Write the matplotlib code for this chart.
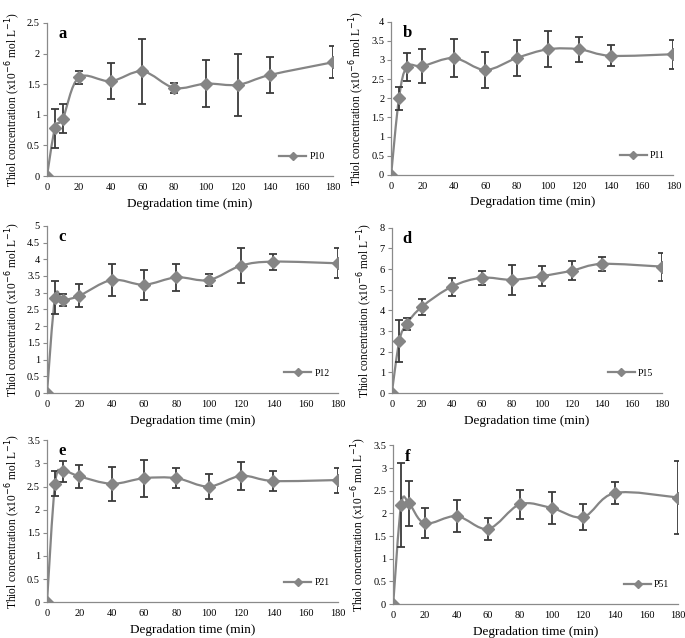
import matplotlib
matplotlib.use('Agg')
import matplotlib.pyplot as plt
from matplotlib.path import Path
from matplotlib.patches import PathPatch
from matplotlib.lines import Line2D
import numpy as np

plt.rcParams['font.family'] = ['Liberation Serif', 'DejaVu Serif']

# ── Data ──────────────────────────────────────────────────────
time = [0, 5, 10, 20, 40, 60, 80, 100, 120, 140, 180]

p10     = [0, 0.78, 0.94, 1.61, 1.55, 1.71, 1.44, 1.51, 1.49, 1.65, 1.86]
p10_err = [0, 0.32, 0.23, 0.10, 0.29, 0.53, 0.08, 0.38, 0.51, 0.30, 0.26]

p11     = [0, 2.00, 2.82, 2.84, 3.05, 2.74, 3.05, 3.28, 3.28, 3.11, 3.15]
p11_err = [0, 0.30, 0.36, 0.45, 0.49, 0.48, 0.46, 0.47, 0.33, 0.28, 0.38]

p12     = [0, 2.85, 2.78, 2.91, 3.38, 3.24, 3.46, 3.38, 3.81, 3.93, 3.88]
p12_err = [0, 0.50, 0.18, 0.35, 0.47, 0.45, 0.41, 0.17, 0.53, 0.24, 0.45]

p15     = [0, 2.52, 3.35, 4.17, 5.15, 5.58, 5.48, 5.66, 5.92, 6.25, 6.12]
p15_err = [0, 1.00, 0.28, 0.37, 0.44, 0.33, 0.73, 0.47, 0.45, 0.34, 0.68]

p21     = [0, 2.56, 2.83, 2.72, 2.56, 2.68, 2.68, 2.50, 2.73, 2.62, 2.64]
p21_err = [0, 0.27, 0.23, 0.25, 0.37, 0.40, 0.22, 0.28, 0.30, 0.21, 0.27]

p51     = [0, 2.18, 2.22, 1.78, 1.94, 1.66, 2.20, 2.12, 1.92, 2.45, 2.35]
p51_err = [0, 0.93, 0.50, 0.33, 0.36, 0.24, 0.32, 0.35, 0.28, 0.25, 0.80]

panels = [
    # letter, label, y, err, ymax, ystep, axes rect
    ('a', 'P10', p10, p10_err, 2.5, 0.5, [0.0686, 0.724, 0.418, 0.240]),
    ('b', 'P11', p11, p11_err, 4.0, 0.5, [0.571, 0.726, 0.412, 0.240]),
    ('c', 'P12', p12, p12_err, 5.0, 0.5, [0.0686, 0.384, 0.425, 0.262]),
    ('d', 'P15', p15, p15_err, 8.0, 1.0, [0.572, 0.384, 0.394, 0.259]),
    ('e', 'P21', p21, p21_err, 3.5, 0.5, [0.0686, 0.056, 0.425, 0.254]),
    ('f', 'P51', p51, p51_err, 3.5, 0.5, [0.574, 0.053, 0.416, 0.249]),
]

LINE = '#858585'
ERR  = '#3a3a3a'


def smooth_path(x, y):
    # Excel-style smoothed line: Catmull-Rom converted to cubic Bezier
    x = np.asarray(x, float); y = np.asarray(y, float)
    pts = np.column_stack([x, y])
    verts = [pts[0]]
    codes = [Path.MOVETO]
    n = len(pts)
    for i in range(n - 1):
        p0 = pts[i - 1] if i > 0 else pts[i]
        p1, p2 = pts[i], pts[i + 1]
        p3 = pts[i + 2] if i + 2 < n else pts[i + 1]
        c1 = p1 + (p2 - p0) / 6
        c2 = p2 - (p3 - p1) / 6
        verts += [c1, c2, p2]
        codes += [Path.CURVE4] * 3
    return Path(verts, codes)


fig = plt.figure(figsize=(6.85, 6.38), dpi=100)

for letter, name, y, err, ymax, ystep, rect in panels:
    ax = fig.add_axes(rect)
    ax.add_patch(PathPatch(smooth_path(time, y), facecolor='none',
                           edgecolor=LINE, linewidth=1.6, zorder=2))
    ax.errorbar(time, y, yerr=err, fmt='none', ecolor=ERR,
                elinewidth=1.3, capsize=3, capthick=1.3, zorder=3)
    ax.plot(time, y, linestyle='none', marker='D', markersize=6,
            color=LINE, zorder=4)

    ax.set_xlim(0, 180)
    ax.set_ylim(0, ymax)
    ax.set_xticks([0, 20, 40, 60, 80, 100, 120, 140, 160, 180])
    ax.set_yticks(np.arange(0, ymax + ystep / 2, ystep))
    ax.yaxis.set_major_formatter(matplotlib.ticker.FuncFormatter(
        lambda v, p: f'{v:g}'))
    for s in ['top', 'right']:
        ax.spines[s].set_visible(False)
    for s in ['left', 'bottom']:
        ax.spines[s].set_color('#8a8a8a')
        ax.spines[s].set_linewidth(0.9)
    ax.tick_params(axis='both', labelsize=7.5, length=3, width=0.8,
                   color='#8a8a8a', pad=2)
    ax.tick_params(axis='x', length=0, pad=5)

    ax.set_xlabel('Degradation time (min)', fontsize=9.5, labelpad=4)
    ax.set_ylabel(r'Thiol concentration (x10$^{-6}$ mol L$^{-1}$)',
                  fontsize=8.3, labelpad=3)
    ax.text(0.04, 0.98, letter, transform=ax.transAxes, fontsize=12,
            fontweight='bold', va='top', ha='left')

    handle = Line2D([], [], color=LINE, linewidth=1.6, marker='D',
                    markersize=4)
    ax.legend([handle], [name], loc='lower right', frameon=False,
              fontsize=7, bbox_to_anchor=(1.0, 0.04), handlelength=2.8,
              handletextpad=0.3)

fig.savefig('out.png', dpi=100)
plt.close()
